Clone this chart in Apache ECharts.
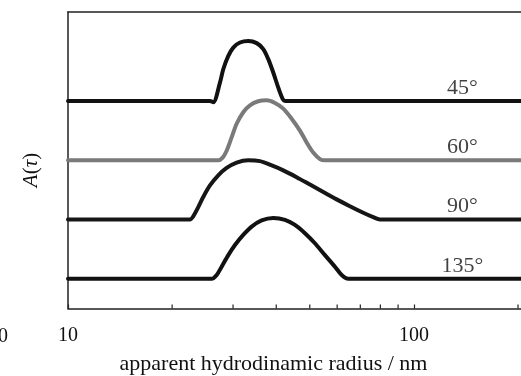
<!DOCTYPE html>
<html>
<head>
<meta charset="utf-8">
<script src="https://cdn.jsdelivr.net/npm/echarts@6/dist/echarts.min.js"></script>
<style>
  html, body { margin: 0; padding: 0; background: #fff; }
  #chart { width: 521px; height: 376px; }
</style>
</head>
<body>
<div id="chart"></div>
<script>
// Scattering angles and the vertical offset each distribution is stacked at
const angles = ['45°', '60°', '90°', '135°'];
const offsets = [7, 5, 3, 1];

// Relaxation-time distributions A(τ) against apparent hydrodynamic radius (nm)
const r45 = [10, 25.73, 26.30, 27.50, 28.11, 29.07, 30.05, 31.42, 33.19, 35.11, 36.69, 37.93, 39.21, 40.54, 41.74, 42.39, 204];
const a45 = [0, 0, -0.04, 0.62, 1.07, 1.52, 1.80, 1.97, 2.02, 1.95, 1.75, 1.41, 0.96, 0.45, 0.07, 0, 0];

const r60 = [10, 27.19, 28.00, 28.75, 29.72, 30.73, 32.11, 33.57, 35.48, 37.52, 39.66, 41.91, 44.31, 46.83, 48.97, 51.16, 53.50, 55.31, 204];
const a60 = [0, 0, 0.09, 0.32, 0.77, 1.23, 1.62, 1.85, 1.99, 2.02, 1.93, 1.74, 1.40, 1.00, 0.60, 0.26, 0.04, 0, 0];

const r90 = [10, 22.52, 23.02, 23.80, 24.60, 25.73, 27.19, 28.75, 30.73, 33.19, 35.89, 38.35, 41.91, 45.80, 50.07, 54.70, 59.80, 65.31, 71.37, 76.28, 79.75, 204];
const a90 = [0, 0, 0.11, 0.42, 0.76, 1.15, 1.49, 1.74, 1.92, 2.00, 1.97, 1.85, 1.66, 1.43, 1.18, 0.93, 0.68, 0.45, 0.23, 0.08, 0, 0];

const r135 = [10, 26.02, 26.91, 27.81, 29.07, 30.39, 32.11, 33.96, 36.29, 39.21, 42.39, 45.30, 48.42, 51.74, 55.31, 59.13, 61.83, 64.59, 204];
const a135 = [0, 0, 0.13, 0.41, 0.80, 1.14, 1.48, 1.76, 1.97, 2.05, 1.99, 1.82, 1.54, 1.20, 0.80, 0.41, 0.13, 0, 0];

// Minor tick values on the logarithmic radius axis
const minorTicks = [20, 30, 40, 50, 60, 70, 80, 90, 200];

// Radius at which the angle labels sit
const labelRadius = 138;

// Visible radius range
const rMin = 10;
const rMax = 204;

const radii = [r45, r60, r90, r135];
const amps = [a45, a60, a90, a135];
const colors = ['#111111', '#7a7a7a', '#161616', '#111111'];
const serif = 'Liberation Serif, Times New Roman, serif';
const frame = { color: '#222', width: 1.5 };

const chart = echarts.init(document.getElementById('chart'), null, { renderer: 'canvas' });

const curveSeries = angles.map((name, k) => ({
  name: name,
  type: 'line',
  smooth: 0.3,
  symbol: 'none',
  animation: false,
  lineStyle: { color: colors[k], width: 4, join: 'round', cap: 'round' },
  data: radii[k].map((r, i) => [r, amps[k][i] + offsets[k]])
}));

const labelSeries = {
  type: 'scatter',
  symbolSize: 0,
  animation: false,
  silent: true,
  data: angles.map((name, k) => ({ value: [labelRadius, offsets[k]], name: name })),
  label: {
    show: true,
    position: 'top',
    distance: 2,
    formatter: p => p.name,
    color: '#111',
    fontFamily: serif,
    fontSize: 22
  }
};

const tickSeries = {
  type: 'custom',
  animation: false,
  silent: true,
  data: minorTicks.map(v => [v, 0]),
  renderItem: (params, api) => {
    const p = api.coord([api.value(0), 0]);
    return {
      type: 'line',
      shape: { x1: p[0], y1: p[1], x2: p[0], y2: p[1] - 4 },
      style: { stroke: '#222', lineWidth: 1.2 }
    };
  }
};

chart.setOption({
  backgroundColor: '#fff',
  animation: false,
  grid: { left: 68, top: 12, right: 0, bottom: 67.5, show: false },
  xAxis: [
    {
      type: 'log',
      logBase: 10,
      min: rMin,
      max: rMax,
      axisLine: { show: true, lineStyle: frame },
      axisTick: { show: true, inside: true, length: 4, lineStyle: { color: '#222', width: 1.2 } },
      splitLine: { show: false },
      axisLabel: {
        color: '#111', fontFamily: serif, fontSize: 20, margin: 17,
        showMaxLabel: false
      }
    },
    {
      // top frame line
      type: 'log',
      logBase: 10,
      min: rMin,
      max: rMax,
      position: 'top',
      axisLine: { show: true, lineStyle: frame },
      axisTick: { show: false },
      axisLabel: { show: false },
      splitLine: { show: false }
    }
  ],
  yAxis: {
    type: 'value',
    min: 0,
    max: 10,
    axisLine: { show: true, lineStyle: frame },
    axisTick: { show: false },
    axisLabel: { show: false },
    splitLine: { show: false }
  },
  graphic: [
    {
      type: 'text',
      x: 273.5, y: 364,
      style: {
        text: 'apparent hydrodinamic radius / nm',
        fill: '#111', fontFamily: serif, fontSize: 22,
        textAlign: 'center', textVerticalAlign: 'middle'
      }
    },
    {
      type: 'text',
      x: 31, y: 170,
      rotation: Math.PI / 2,
      style: {
        text: '{i|A}{n|(}{i|τ}{n|)}',
        fill: '#111', fontFamily: serif, fontSize: 21,
        textAlign: 'center', textVerticalAlign: 'middle',
        rich: {
          i: { fontStyle: 'italic', fontFamily: serif, fontSize: 21, fill: '#111' },
          n: { fontStyle: 'normal', fontFamily: serif, fontSize: 21, fill: '#111' }
        }
      }
    },
    {
      type: 'text',
      x: -2, y: 337,
      style: {
        text: '0', fill: '#111', fontFamily: serif, fontSize: 20,
        textAlign: 'left', textVerticalAlign: 'middle'
      }
    }
  ],
  series: curveSeries.concat([labelSeries, tickSeries])
});
</script>
</body>
</html>
